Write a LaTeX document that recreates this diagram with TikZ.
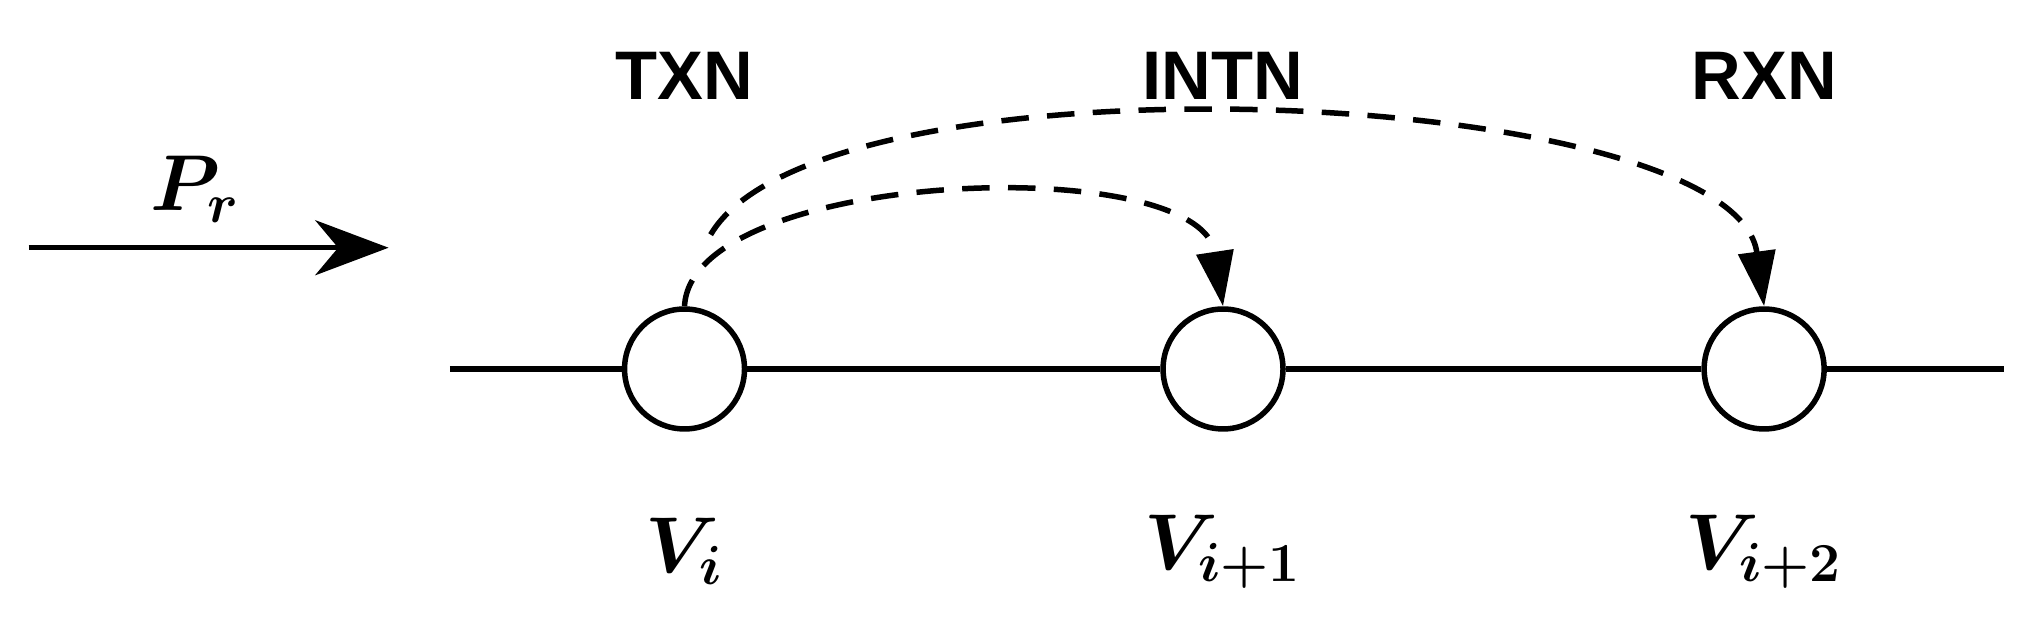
\documentclass[tikz,border=0pt]{standalone}
\usepackage{amsmath}
\usepackage{bm}
\usepackage{fontspec}
\newfontfamily\labfont{Liberation Sans}
\usetikzlibrary{arrows.meta}
\tikzset{
	relay/.style={circle, draw, line width=1.2pt, minimum size=0.92cm, inner sep=0pt, fill=white},
	role/.style={font=\labfont\bfseries\fontsize{15}{15}\selectfont},
	vname/.style={font=\fontsize{18}{18}\selectfont},
	hop/.style={draw, dashed, line width=1.2pt, dash pattern=on 6pt off 4pt, -{Triangle[length=12pt,width=8pt]}}
}
\begin{document}
\begin{tikzpicture}[line width=1.2pt]
	\useasboundingbox (0,0) rectangle (15.6,4.85);
	% chain of relays
	\coordinate (lft) at (3.45,2.02);
	\coordinate (rgt) at (15.37,2.02);
	\node[relay] (v1) at (5.25,2.02) {};
	\node[relay] (v2) at (9.38,2.02) {};
	\node[relay] (v3) at (13.53,2.02) {};
	\draw (lft) -- (v1) -- (v2) -- (v3) -- (rgt);
	% names
	\node[vname] (n1) at (5.25,0.62) {$\bm{V_i}$};
	\node[vname] (n2) at (9.38,0.62) {$\bm{V_{i+1}}$};
	\node[vname] (n3) at (13.53,0.62) {$\bm{V_{i+2}}$};
	\node[role] (r1) at (5.25,4.27) {TXN};
	\node[role] (r2) at (9.38,4.27) {INTN};
	\node[role] (r3) at (13.53,4.27) {RXN};
	% power direction
	\coordinate (pa) at (0.22,2.95);
	\coordinate (pb) at (2.98,2.95);
	\draw[-{Stealth[length=16pt,width=12pt,inset=5pt]}] (pa) -- (pb);
	\node[vname] (pr) at (1.5,3.4) {$\bm{P_r}$};
	% hops
	\draw[hop] (v1.north) .. controls (5.3,3.55) and (9.2,3.7) .. (v2.north);
	\draw[hop] (5.45,3.05) .. controls (6.3,4.5) and (13.3,4.2) .. (v3.north);
\end{tikzpicture}
\end{document}
